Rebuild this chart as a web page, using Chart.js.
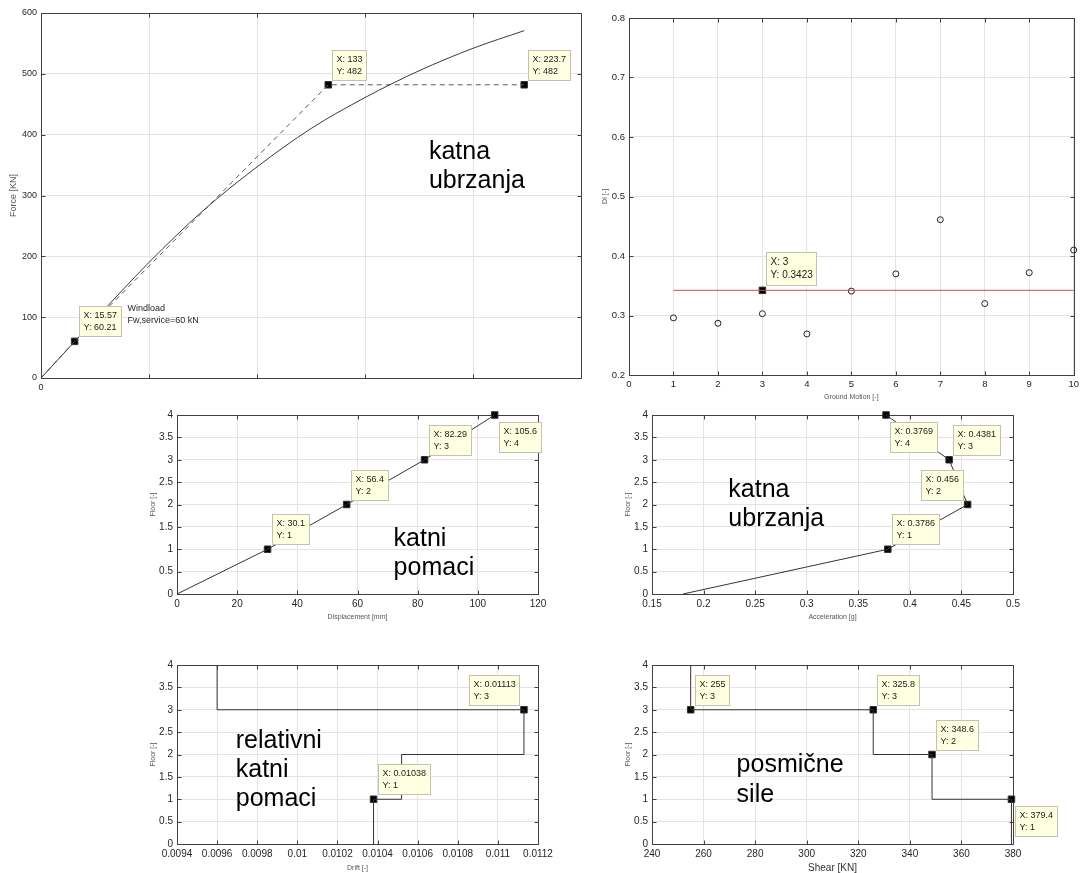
<!DOCTYPE html>
<html>
<head>
<meta charset="utf-8">
<script src="https://cdn.jsdelivr.net/npm/chart.js@4.4.1/dist/chart.umd.min.js"></script>
<style>
  html, body { margin: 0; padding: 0; background: #fff; }
  body { width: 1080px; height: 873px; position: relative; overflow: hidden; }
  canvas { position: absolute; }
</style>
</head>
<body>
<canvas id="pushover"></canvas>
<canvas id="damage"></canvas>
<canvas id="displacement"></canvas>
<canvas id="acceleration"></canvas>
<canvas id="drift"></canvas>
<canvas id="shear"></canvas>
<script>
// pushover curve (displacement [mm] vs force [kN])
const pushoverDisp = [0, 25, 50, 75, 100, 125, 150, 175, 200, 223.7];
const pushoverForce = [0, 96, 190, 275, 347, 410, 461, 505, 542, 571];
// bilinear idealisation
const bilinDisp = [0, 15.57, 133, 223.7];
const bilinForce = [0, 60.21, 482, 482];

// damage index per ground motion
const groundMotions = [1, 2, 3, 4, 5, 6, 7, 8, 9, 10];
const damageIndex = [0.296, 0.287, 0.303, 0.269, 0.341, 0.370, 0.461, 0.320, 0.372, 0.410];
const damageMean = 0.3423;
const damageTipMotion = 3;

// storey results
const floors = [0, 1, 2, 3, 4];
const floorDisp = [0, 30.1, 56.4, 82.29, 105.6];
const floorAcc = [0.18, 0.3786, 0.456, 0.4381, 0.3769];
const storeyDrift = [0.01038, 0.01052, 0.01113, 0.0096];
const storeyShear = [379.4, 348.6, 325.8, 255];

const FONT = "'Liberation Sans', Arial, Helvetica, sans-serif";
Chart.defaults.font.family = FONT;

const plainNumber = (v) => String(+Number(v).toPrecision(6));
const tipNumber = (v) => String(+Number(v).toPrecision(4));
const pts = (xs, ys) => xs.map((x, i) => ({ x, y: ys[i] }));

function stairPoints(values, levels) {
  const out = [];
  values.forEach((v, i) => {
    out.push({ x: v, y: levels[i] }, { x: v, y: levels[i + 1] });
  });
  return out;
}

// axes box + inward ticks, matlab style
const framePlugin = {
  id: "frame",
  beforeDatasetsDraw(chart) {
    const { ctx, chartArea: a, scales } = chart;
    const l = Math.round(a.left) + 0.5, r = Math.round(a.right) + 0.5;
    const t = Math.round(a.top) + 0.5, b = Math.round(a.bottom) + 0.5;
    ctx.save();
    ctx.strokeStyle = "#404040";
    ctx.lineWidth = 1;
    ctx.beginPath();
    scales.x.ticks.forEach((tk) => {
      const px = Math.round(scales.x.getPixelForValue(tk.value)) + 0.5;
      ctx.moveTo(px, b); ctx.lineTo(px, b - 4);
      ctx.moveTo(px, t); ctx.lineTo(px, t + 4);
    });
    scales.y.ticks.forEach((tk) => {
      const py = Math.round(scales.y.getPixelForValue(tk.value)) + 0.5;
      ctx.moveTo(l, py); ctx.lineTo(l + 4, py);
      ctx.moveTo(r, py); ctx.lineTo(r - 4, py);
    });
    ctx.stroke();
    ctx.strokeRect(l, t, r - l, b - t);
    ctx.restore();
  }
};
Chart.register(framePlugin);

function datatips(points, places, size) {
  return {
    id: "datatips",
    afterDatasetsDraw(chart) {
      const { ctx, scales: { x, y } } = chart;
      const lineH = size * 1.33, padX = 4, padY = 3;
      ctx.save();
      ctx.font = size + "px " + FONT;
      points.forEach((p, i) => {
        const lines = ["X: " + tipNumber(p.x), "Y: " + tipNumber(p.y)];
        const w = Math.round(Math.max(...lines.map((s) => ctx.measureText(s).width)) + 2 * padX);
        const h = Math.round(2 * lineH + 2 * padY);
        const px = x.getPixelForValue(p.x), py = y.getPixelForValue(p.y);
        const place = places[i] || "ur";
        const left = Math.round(place === "ul" ? px - 5 - w : px + 4) + 0.5;
        const top = Math.round(place === "dr" ? py + 7 : py - 5 - h) + 0.5;
        ctx.fillStyle = "#ffffe1";
        ctx.strokeStyle = "#c2c2ae";
        ctx.lineWidth = 1;
        ctx.fillRect(left, top, w, h);
        ctx.strokeRect(left, top, w, h);
        ctx.fillStyle = "#1a1a1a";
        ctx.textAlign = "left";
        ctx.textBaseline = "middle";
        lines.forEach((s, k) => ctx.fillText(s, left + padX, top + padY + lineH * (k + 0.5)));
      });
      ctx.restore();
    }
  };
}

function notes(list) {
  return {
    id: "notes",
    afterDraw(chart) {
      const { ctx, scales: { x, y } } = chart;
      ctx.save();
      list.forEach((n) => {
        ctx.font = n.size + "px " + FONT;
        ctx.fillStyle = n.color || "#000";
        ctx.textAlign = "left";
        ctx.textBaseline = "alphabetic";
        const px = x.getPixelForValue(n.x), py = y.getPixelForValue(n.y);
        n.lines.forEach((s, k) => ctx.fillText(s, px, py + k * n.lead));
      });
      ctx.restore();
    }
  };
}

function linearAxis(o, horizontal, fitSize) {
  const titleSize = o.titleSize || 7;
  const titlePad = Math.max(0, (o.titleOffset || 0) - titleSize * 0.6);
  return {
    type: "linear",
    position: horizontal ? "bottom" : "left",
    min: o.min,
    max: o.max,
    ticks: {
      stepSize: o.step,
      autoSkip: false,
      maxRotation: 0,
      padding: 4,
      color: "#262626",
      font: { size: o.tickSize || 10 },
      callback: o.labels || plainNumber
    },
    grid: { color: "#e4e4e4", lineWidth: 1, drawTicks: false },
    border: { display: false },
    title: {
      display: !!o.title,
      text: o.title || "",
      color: o.titleColor || "#555",
      font: { size: titleSize },
      padding: horizontal ? { top: 0, bottom: titlePad } : { top: titlePad, bottom: 0 }
    },
    afterFit: (scale) => {
      if (horizontal) scale.height = fitSize; else scale.width = fitSize;
    }
  };
}

function panel(id, area, pad, xOpts, yOpts, datasets, extras) {
  const canvas = document.getElementById(id);
  canvas.width = area.right - area.left + pad.left + pad.right;
  canvas.height = area.bottom - area.top + pad.top + pad.bottom;
  canvas.style.left = (area.left - pad.left) + "px";
  canvas.style.top = (area.top - pad.top) + "px";
  return new Chart(canvas, {
    type: "scatter",
    data: { datasets },
    options: {
      responsive: false,
      animation: false,
      devicePixelRatio: 1,
      layout: { padding: { left: 0, top: pad.top, right: pad.right, bottom: 0 } },
      plugins: { legend: { display: false }, tooltip: { enabled: false } },
      scales: {
        x: linearAxis(xOpts, true, pad.bottom),
        y: linearAxis(yOpts, false, pad.left)
      }
    },
    plugins: extras
  });
}

const lineStyle = { showLine: true, borderColor: "#333", borderWidth: 1, pointRadius: 0, fill: false, clip: false };
const markerStyle = { showLine: false, pointStyle: "rect", pointRadius: 4.6, backgroundColor: "#000", borderColor: "#333", borderWidth: 1, clip: false };

// 1) pushover
const bilinPts = pts(bilinDisp, bilinForce);
panel("pushover",
  { left: 41, top: 13, right: 581, bottom: 378 },
  { left: 41, top: 13, right: 8, bottom: 22 },
  { min: 0, max: 250, step: 50, tickSize: 9, labels: (v) => (v === 0 ? "0" : "") },
  { min: 0, max: 600, step: 100, tickSize: 9, title: "Force [KN]", titleSize: 9, titleOffset: 13.6 },
  [
    { ...lineStyle, data: pts(pushoverDisp, pushoverForce), borderColor: "#3a3a3a", cubicInterpolationMode: "monotone" },
    { ...lineStyle, data: bilinPts, borderColor: "#5a5a5a", borderDash: [5, 4] },
    { ...markerStyle, data: bilinPts.slice(1) }
  ],
  [
    datatips(bilinPts.slice(1), ["ur", "ur", "ur"], 9),
    notes([
      { x: 179.6, y: 359.5, lines: ["katna", "ubrzanja"], size: 25, lead: 29 },
      { x: 40, y: 110.6, lines: ["Windload", "Fw,service=60 kN"], size: 9, lead: 12.6, color: "#262626" }
    ])
  ]
);

// 2) damage index
const meanTip = [{ x: damageTipMotion, y: damageMean }];
panel("damage",
  { left: 629, top: 18, right: 1075, bottom: 375 },
  { left: 50, top: 18, right: 8, bottom: 28 },
  { min: 0, max: 10, step: 1, tickSize: 9.5, title: "Ground Motion [-]", titleOffset: 6 },
  { min: 0.2, max: 0.8, step: 0.1, tickSize: 9.5, title: "DI [-]", titleOffset: 26 },
  [
    { ...lineStyle, data: [{ x: groundMotions[0], y: damageMean }, { x: groundMotions[groundMotions.length - 1], y: damageMean }], borderColor: "#dc4646" },
    { showLine: false, data: pts(groundMotions, damageIndex), pointStyle: "circle", pointRadius: 3, borderWidth: 1, borderColor: "#222", backgroundColor: "rgba(0,0,0,0)", clip: false },
    { ...markerStyle, data: meanTip }
  ],
  [datatips(meanTip, ["ur"], 10)]
);

// 3) floor displacement
const dispPts = pts(floorDisp, floors);
panel("displacement",
  { left: 177, top: 415, right: 538, bottom: 594 },
  { left: 45, top: 10, right: 20, bottom: 30 },
  { min: 0, max: 120, step: 20, title: "Displacement [mm]", titleOffset: 7 },
  { min: 0, max: 4, step: 0.5, title: "Floor [-]", titleOffset: 21 },
  [
    { ...lineStyle, data: dispPts },
    { ...markerStyle, data: dispPts.slice(1) }
  ],
  [
    datatips(dispPts.slice(1), ["ur", "ur", "ur", "dr"], 9),
    notes([{ x: 72, y: 1.08, lines: ["katni", "pomaci"], size: 25, lead: 29 }])
  ]
);

// 4) floor acceleration
const accPts = pts(floorAcc, floors);
panel("acceleration",
  { left: 652, top: 415, right: 1013, bottom: 594 },
  { left: 45, top: 10, right: 20, bottom: 30 },
  { min: 0.15, max: 0.5, step: 0.05, title: "Acceleration [g]", titleOffset: 7 },
  { min: 0, max: 4, step: 0.5, title: "Floor [-]", titleOffset: 21 },
  [
    { ...lineStyle, data: accPts },
    { ...markerStyle, data: accPts.slice(1) }
  ],
  [
    datatips(accPts.slice(1), ["ur", "ul", "ur", "dr"], 9),
    notes([{ x: 0.224, y: 2.17, lines: ["katna", "ubrzanja"], size: 25, lead: 29 }])
  ]
);

// 5) storey drift
const driftMarks = [{ x: storeyDrift[0], y: floors[1] }, { x: storeyDrift[2], y: floors[3] }];
panel("drift",
  { left: 177, top: 665, right: 538, bottom: 844 },
  { left: 45, top: 10, right: 22, bottom: 30 },
  { min: 0.0094, max: 0.0112, step: 0.0002, title: "Drift [-]", titleOffset: 6 },
  { min: 0, max: 4, step: 0.5, title: "Floor [-]", titleOffset: 21 },
  [
    { ...lineStyle, data: stairPoints(storeyDrift, floors) },
    { ...markerStyle, data: driftMarks }
  ],
  [
    datatips(driftMarks, ["ur", "ul"], 9),
    notes([{ x: 0.009693, y: 2.14, lines: ["relativni", "katni", "pomaci"], size: 25, lead: 29 }])
  ]
);

// 6) storey shear
const shearMarks = [
  { x: storeyShear[3], y: floors[3] },
  { x: storeyShear[2], y: floors[3] },
  { x: storeyShear[1], y: floors[2] },
  { x: storeyShear[0], y: floors[1] }
];
panel("shear",
  { left: 652, top: 665, right: 1013, bottom: 844 },
  { left: 45, top: 10, right: 60, bottom: 30 },
  { min: 240, max: 380, step: 20, title: "Shear [KN]", titleSize: 10, titleOffset: 6, titleColor: "#333" },
  { min: 0, max: 4, step: 0.5, title: "Floor [-]", titleOffset: 21 },
  [
    { ...lineStyle, data: stairPoints(storeyShear, floors) },
    { ...markerStyle, data: shearMarks }
  ],
  [
    datatips(shearMarks, ["ur", "ur", "ur", "dr"], 9),
    notes([{ x: 272.8, y: 1.615, lines: ["posmične", "sile"], size: 25, lead: 30 }])
  ]
);
</script>
</body>
</html>
